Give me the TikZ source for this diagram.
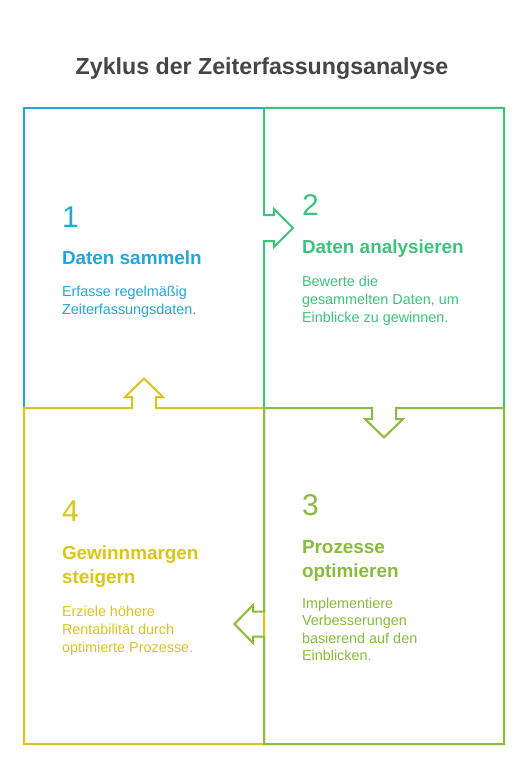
\documentclass[tikz,border=0pt]{standalone}
\usepackage{fontspec}
\setmainfont{Liberation Sans}
\definecolor{cblue}{HTML}{22A7DC}
\definecolor{cgreen}{HTML}{3CC47C}
\definecolor{colive}{HTML}{88BC3A}
\definecolor{cyellow}{HTML}{DCC51B}
\definecolor{ctitle}{HTML}{454545}
\begin{document}
\begin{tikzpicture}[x=1pt,y=-1pt,
  edge/.style={line width=2pt,line join=miter},
  txt/.style={anchor=base west,inner sep=0pt,outer sep=0pt},
  numtxt/.style={txt,font=\fontsize{30}{30}\selectfont},
  headtxt/.style={txt,font=\fontsize{18.9}{24}\selectfont\bfseries},
  bodytxt/.style={txt,font=\fontsize{14.4}{18}\selectfont}]
\useasboundingbox (0,0) rectangle (528,757);
\fill[white] (0,0) rectangle (528,757);
% title
\node[anchor=base,inner sep=0pt,text=ctitle,font=\fontsize{23.2}{28}\selectfont\bfseries] (title) at (262,75) {Zyklus der Zeiterfassungsanalyse};
% box 1 (blue)
\draw[edge,cblue] (24,408) -- (24,108) -- (264,108);
% box 4 (yellow) with up arrow
\draw[edge,cyellow] (264,408) -- (156,408) -- (156,397) -- (163,397) -- (144,378.5) -- (125,397) -- (132,397) -- (132,408) -- (24,408) -- (24,744) -- (264,744) -- cycle;
% box 2 (green) with right arrow
\draw[edge,cgreen] (264,408) -- (264,241) -- (274,241) -- (274,247) -- (293,228) -- (274,209) -- (274,215) -- (264,215) -- (264,108) -- (504,108) -- (504,408);
% box 3 (olive) with down and left arrows
\draw[edge,colive] (264,408) -- (372,408) -- (372,419) -- (365,419) -- (384,437.5) -- (403,419) -- (396,419) -- (396,408) -- (504,408) -- (504,744) -- (264,744) -- (264,636.5) -- (253,636.5) -- (253,643) -- (234.5,624) -- (253,605) -- (253,611.5) -- (264,611.5) -- cycle;
% box 1 text
\node[numtxt,text=cblue] (n1) at (62,227) {1};
\node[headtxt,text=cblue] (h1) at (62,264) {Daten sammeln};
\node[bodytxt,text=cblue] (b1a) at (62,296) {Erfasse regelmäßig};
\node[bodytxt,text=cblue] (b1b) at (62,314) {Zeiterfassungsdaten.};
% box 2 text
\node[numtxt,text=cgreen] (n2) at (302,215) {2};
\node[headtxt,text=cgreen] (h2) at (302,253) {Daten analysieren};
\node[bodytxt,text=cgreen] (b2a) at (302,286) {Bewerte die};
\node[bodytxt,text=cgreen] (b2b) at (302,304) {gesammelten Daten, um};
\node[bodytxt,text=cgreen] (b2c) at (302,322) {Einblicke zu gewinnen.};
% box 3 text
\node[numtxt,text=colive] (n3) at (302,515) {3};
\node[headtxt,text=colive] (h3a) at (302,553) {Prozesse};
\node[headtxt,text=colive] (h3b) at (302,577) {optimieren};
\node[bodytxt,text=colive] (b3a) at (302,608) {Implementiere};
\node[bodytxt,text=colive] (b3b) at (302,625.5) {Verbesserungen};
\node[bodytxt,text=colive] (b3c) at (302,643) {basierend auf den};
\node[bodytxt,text=colive] (b3d) at (302,660.5) {Einblicken.};
% box 4 text
\node[numtxt,text=cyellow] (n4) at (62,521) {4};
\node[headtxt,text=cyellow] (h4a) at (62,559) {Gewinnmargen};
\node[headtxt,text=cyellow] (h4b) at (62,583) {steigern};
\node[bodytxt,text=cyellow] (b4a) at (62,616) {Erziele höhere};
\node[bodytxt,text=cyellow] (b4b) at (62,634) {Rentabilität durch};
\node[bodytxt,text=cyellow] (b4c) at (62,652) {optimierte Prozesse.};
\end{tikzpicture}
\end{document}
